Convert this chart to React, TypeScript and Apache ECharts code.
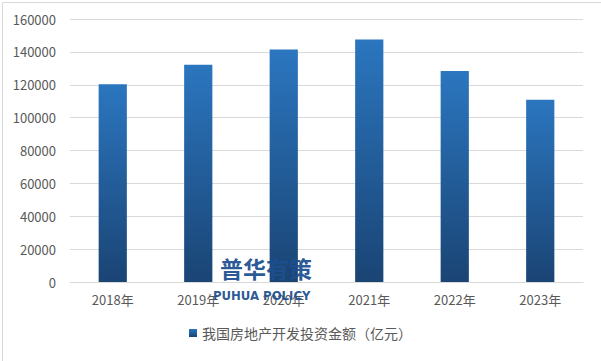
import React, { useEffect, useRef } from "react";
import * as echarts from "echarts";

const categories = ["2018年", "2019年", "2020年", "2021年", "2022年", "2023年"];
const values = [120264, 132194, 141443, 147602, 128400, 110913];
const seriesName = "我国房地产开发投资金额（亿元）";

export default function App() {
  const ref = useRef<HTMLDivElement>(null);
  useEffect(() => {
    const chart = echarts.init(ref.current!, null, { renderer: "svg" });
    const grad = new echarts.graphic.LinearGradient(0, 0, 0, 1, [
      { offset: 0, color: "#2b76bf" },
      { offset: 1, color: "#1a4474" },
    ]);
    chart.setOption({
      animation: false,
      backgroundColor: "#ffffff",
      textStyle: { fontFamily: "'Noto Sans CJK SC', 'Noto Sans', sans-serif" },
      grid: { left: 70, right: 18, top: 19, bottom: 79 },
      legend: {
        bottom: 16,
        left: "center",
        itemWidth: 8,
        itemHeight: 8,
        icon: "rect",
        itemGap: 4,
        textStyle: { color: "#595959", fontSize: 14 },
        data: [{ name: seriesName, itemStyle: { color: grad } }],
      },
      xAxis: {
        type: "category",
        data: categories,
        axisLine: { lineStyle: { color: "#d9d9d9" } },
        axisTick: { show: false },
        axisLabel: { color: "#595959", fontSize: 13, margin: 11 },
      },
      yAxis: {
        type: "value",
        min: 0,
        max: 160000,
        interval: 20000,
        axisLine: { show: false },
        axisTick: { show: false },
        axisLabel: {
          color: "#595959",
          fontSize: 13,
          margin: 14,
          formatter: (v: number) => String(v),
        },
        splitLine: { lineStyle: { color: "#d9d9d9" } },
      },
      series: [
        {
          name: seriesName,
          type: "bar",
          data: values,
          barWidth: "33%",
          itemStyle: { color: grad },
        },
      ],
      graphic: [
        {
          type: "rect",
          left: 0,
          top: 0,
          shape: { width: 600, height: 360 },
          style: { fill: "none", stroke: "#d9d9d9", lineWidth: 1 },
          silent: true,
          z: 100,
        },
        {
          type: "text",
          left: 220,
          top: 256,
          style: {
            text: "普华有策",
            fill: "#1d4f8f",
            font: "bold 23px 'Noto Sans CJK SC'",
            opacity: 0.95,
          },
          z: 100,
        },
        {
          type: "text",
          left: 213,
          top: 289,
          style: {
            text: "PUHUA POLICY",
            fill: "#1d4f8f",
            font: "bold 13px 'Liberation Sans Narrow', 'DejaVu Sans Condensed', sans-serif",
            opacity: 0.95,
          },
          z: 100,
        },
      ],
    });
    return () => chart.dispose();
  }, []);
  return (
    <div
      ref={ref}
      style={{ position: "absolute", left: 0, top: 0, width: 601, height: 361 }}
    />
  );
}
